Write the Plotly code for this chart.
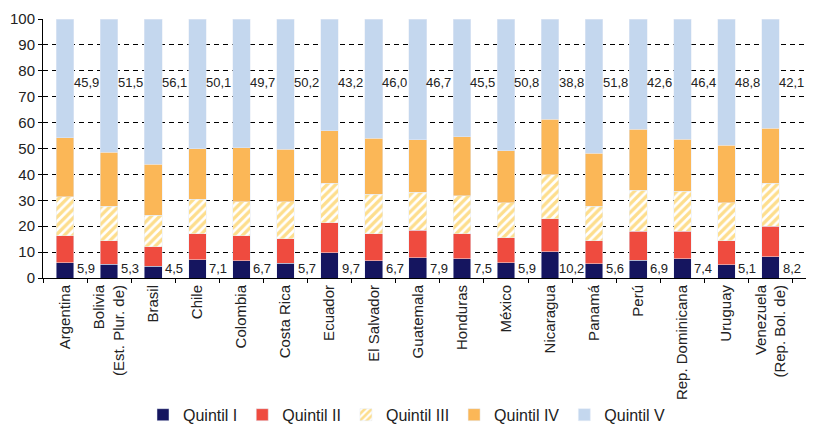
import plotly.graph_objects as go

countries = ["Argentina", "Bolivia<br>(Est. Plur. de)", "Brasil", "Chile", "Colombia",
             "Costa Rica", "Ecuador", "El Salvador", "Guatemala", "Honduras", "México",
             "Nicaragua", "Panamá", "Perú", "Rep. Dominicana", "Uruguay",
             "Venezuela<br>(Rep. Bol. de)"]

q1 = [5.9, 5.3, 4.5, 7.1, 6.7, 5.7, 9.7, 6.7, 7.9, 7.5, 5.9, 10.2, 5.6, 6.9, 7.4, 5.1, 8.2]
q2 = [10.5, 9.0, 7.5, 10.0, 9.7, 9.4, 11.6, 10.4, 10.5, 9.6, 9.6, 12.7, 8.7, 11.1, 10.6, 9.2, 11.8]
q3 = [15.0, 13.4, 12.2, 13.3, 13.0, 14.3, 15.2, 15.2, 14.7, 14.7, 13.5, 17.0, 13.4, 15.9, 15.5, 14.7, 16.5]
q4 = [22.7, 20.8, 19.7, 19.5, 20.9, 20.4, 20.3, 21.7, 20.2, 22.7, 20.2, 21.3, 20.5, 23.5, 20.1, 22.2, 21.4]
q5 = [45.9, 51.5, 56.1, 50.1, 49.7, 50.2, 43.2, 46.0, 46.7, 45.5, 50.8, 38.8, 51.8, 42.6, 46.4, 48.8, 42.1]

FONT = "Liberation Sans, Arial, sans-serif"

fig = go.Figure()
fig.add_trace(go.Bar(x=countries, y=q1, name="Quintil I", marker_color="#15155f"))
fig.add_trace(go.Bar(x=countries, y=q2, name="Quintil II", marker_color="#ef4b3f"))
fig.add_trace(go.Bar(x=countries, y=q3, name="Quintil III",
                     marker=dict(color="white",
                                 pattern=dict(shape="/", fgcolor="#fcbd1c", bgcolor="white",
                                              size=6, solidity=0.55))))
fig.add_trace(go.Bar(x=countries, y=q4, name="Quintil IV", marker_color="#fbb757"))
fig.add_trace(go.Bar(x=countries, y=q5, name="Quintil V", marker_color="#c4d7ee"))

fmt = lambda v: f"{v:.1f}".replace(".", ",")
for c, a, b in zip(countries, q1, q5):
    for val, yy in ((a, 3.5), (b, 75.3)):
        fig.add_annotation(x=c, y=yy, text=fmt(val), showarrow=False, xshift=21,
                           font=dict(size=13, color="#222222", family=FONT))

fig.update_layout(
    barmode="stack",
    bargap=0.6,
    width=814, height=425,
    margin=dict(l=43, r=8, t=19, b=147),
    plot_bgcolor="white", paper_bgcolor="white",
    font=dict(family=FONT, size=15, color="#222222"),
    showlegend=True,
    legend=dict(orientation="h", x=0.5, xanchor="center", xref="container",
                y=0.024, yanchor="middle", yref="container",
                font=dict(size=16), itemwidth=30, traceorder="normal"),
)
fig.update_xaxes(tickangle=-90, showline=True, linecolor="black", ticks="outside",
                 tickson="boundaries", ticklen=4, tickcolor="black", automargin=False,
                 tickfont=dict(size=15))
fig.update_yaxes(range=[0, 100], dtick=10, showline=True, linecolor="black",
                 ticks="outside", ticklen=4, tickcolor="black", showgrid=True,
                 gridcolor="black", griddash="5px,4px", gridwidth=1, zeroline=False,
                 automargin=False, tickfont=dict(size=15))

# page body has a default 8px margin; drop it so the figure fills the window
fig.write_html("out.html", config={"displayModeBar": False},
               post_script="document.body.style.margin='0';")
